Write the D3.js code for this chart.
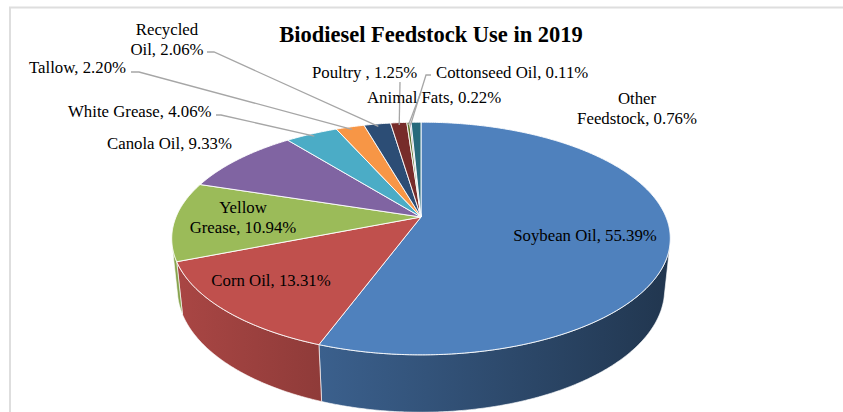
<!DOCTYPE html>
<html>
<head>
<meta charset="utf-8">
<script src="https://cdn.jsdelivr.net/npm/d3@7"></script>
<style>
  html, body { margin: 0; padding: 0; background: #fff; }
  svg { display: block; }
</style>
</head>
<body>
<script>
// ---- data ----
const title = "Biodiesel Feedstock Use in 2019";
const categories = ["Soybean Oil", "Corn Oil", "Yellow Grease", "Canola Oil", "White Grease",
  "Tallow", "Recycled Oil", "Poultry ", "Animal Fats", "Cottonseed Oil", "Other Feedstock"];
const shares = [55.39, 13.31, 10.94, 9.33, 4.06, 2.20, 2.06, 1.25, 0.22, 0.11, 0.76];
const colors = ["#4F81BD", "#C0504D", "#9BBB59", "#8064A2", "#4BACC6", "#F79646",
  "#2C4D75", "#772C2A", "#5F7530", "#4D3B62", "#276A7C"];

// ---- layout ----
const W = 843, H = 412;
const view = { cx: 421, cy: 217, S: 245, phi: 27.3 * Math.PI / 180, D: 4.81, t: 0.235 };
const font = "'Liberation Serif', 'Times New Roman', serif";
// label placement: anchor point, whether the name wraps after its first word, leader start
const labelLayout = [
  { x: 585, y: 241, anchor: "middle" },
  { x: 271, y: 286, anchor: "middle" },
  { x: 243, y: 213, anchor: "middle", wrap: true },
  { x: 107, y: 149, anchor: "start" },
  { x: 68,  y: 117, anchor: "start", leader: [[216, 115], [221, 115]] },
  { x: 29,  y: 73,  anchor: "start", leader: [[131, 72], [139, 72]] },
  { x: 167, y: 35,  anchor: "middle", wrap: true, leader: [[207, 52], [214, 52]] },
  { x: 312, y: 78,  anchor: "start", leader: [[400, 82]] },
  { x: 367, y: 103, anchor: "start", leader: [[421, 92]] },
  { x: 436, y: 78,  anchor: "start", leader: [[431, 75], [426, 75]] },
  { x: 637, y: 104, anchor: "middle", wrap: true }
];
const lineGap = 19.5;

const svg = d3.select("body").append("svg").attr("width", W).attr("height", H);
const defs = svg.append("defs");

// perspective view of a flat disk: theta clockwise from the far edge, r radius, Y height
function project(theta, r, Y) {
  const { cx, cy, S, phi, D } = view;
  const X = r * Math.sin(theta), Z = -r * Math.cos(theta);
  const d = Z * Math.cos(phi) + Y * Math.sin(phi);
  const k = D / (D - d);
  return [cx + S * X * k, cy + S * (Z * Math.sin(phi) - Y * Math.cos(phi)) * k];
}
function arcPoints(a0, a1, Y) {
  const n = Math.max(2, Math.ceil(Math.abs(a1 - a0) / (0.5 * Math.PI / 180)));
  return d3.range(n + 1).map(i => project(a0 + (a1 - a0) * i / n, 1, Y));
}

const pie = d3.pie().value(d => d).sort(null).startAngle(0).endAngle(2 * Math.PI);
const arcs = pie(shares);

// front part of the outer wall that faces the viewer
const edge = Math.acos(-1 / (view.D * Math.cos(view.phi)));
const vis0 = edge, vis1 = 2 * Math.PI - edge;

// wall shading darkens from left to right across the page
const bright = d3.scaleLinear().domain([176, 665]).range([0.88, 0.42]).clamp(true);
function shade(c, f) {
  const r = d3.rgb(c);
  return d3.rgb(r.r * f, r.g * f, r.b * f).formatHex();
}

const line = d3.line();
const walls = svg.append("g");
arcs.forEach((a, i) => {
  const s = Math.max(a.startAngle, vis0), e = Math.min(a.endAngle, vis1);
  if (e <= s) return;
  const top = arcPoints(s, e, 0);
  const bot = arcPoints(e, s, -view.t);
  const pts = top.concat(bot);
  const xs = pts.map(p => p[0]);
  const x0 = d3.min(xs), x1 = d3.max(xs);
  const id = "wall" + i;
  const g = defs.append("linearGradient").attr("id", id)
    .attr("gradientUnits", "userSpaceOnUse")
    .attr("x1", x0).attr("x2", x1).attr("y1", 0).attr("y2", 0);
  g.append("stop").attr("offset", 0).attr("stop-color", shade(colors[i], bright(x0)));
  g.append("stop").attr("offset", 1).attr("stop-color", shade(colors[i], bright(x1)));
  walls.append("path")
    .attr("d", line(pts) + "Z")
    .attr("fill", `url(#${id})`)
    .attr("stroke", "#fff").attr("stroke-width", 0.8).attr("stroke-opacity", 0.8)
    .attr("stroke-linejoin", "round");
});

// top faces
const tops = svg.append("g");
arcs.forEach((a, i) => {
  const pts = [project(0, 0, 0)].concat(arcPoints(a.startAngle, a.endAngle, 0));
  tops.append("path")
    .attr("d", line(pts) + "Z")
    .attr("fill", colors[i])
    .attr("stroke", "#fff").attr("stroke-width", 1).attr("stroke-opacity", 0.9)
    .attr("stroke-linejoin", "round");
});

// leader lines
const leaders = svg.append("g").attr("fill", "none").attr("stroke", "#a6a6a6").attr("stroke-width", 1.3);
arcs.forEach((a, i) => {
  const L = labelLayout[i];
  if (!L.leader) return;
  const mid = (a.startAngle + a.endAngle) / 2;
  const end = project(mid, 0.97, 0);
  leaders.append("path").attr("d", line(L.leader.concat([end])));
});

// data labels
const labels = svg.append("g").attr("font-family", font).attr("font-size", 16.8).attr("fill", "#000");
arcs.forEach((a, i) => {
  const L = labelLayout[i];
  const name = categories[i];
  const value = shares[i].toFixed(2) + "%";
  let lines;
  if (L.wrap) {
    const k = name.indexOf(" ");
    lines = [name.slice(0, k), name.slice(k + 1) + ", " + value];
  } else {
    lines = [name + ", " + value];
  }
  const t = labels.append("text").attr("text-anchor", L.anchor).attr("xml:space", "preserve");
  lines.forEach((s, j) => {
    t.append("tspan").attr("x", L.x).attr("y", L.y + j * lineGap).text(s);
  });
});

// title
svg.append("text")
  .attr("x", 431).attr("y", 42)
  .attr("text-anchor", "middle")
  .attr("font-family", font).attr("font-weight", "bold").attr("font-size", 22.5)
  .attr("fill", "#000")
  .text(title);

// chart area frame
svg.append("path")
  .attr("d", `M10,${H + 2}V7.5H${W + 2}`)
  .attr("fill", "none").attr("stroke", "#dedede").attr("stroke-width", 2);
</script>
</body>
</html>
